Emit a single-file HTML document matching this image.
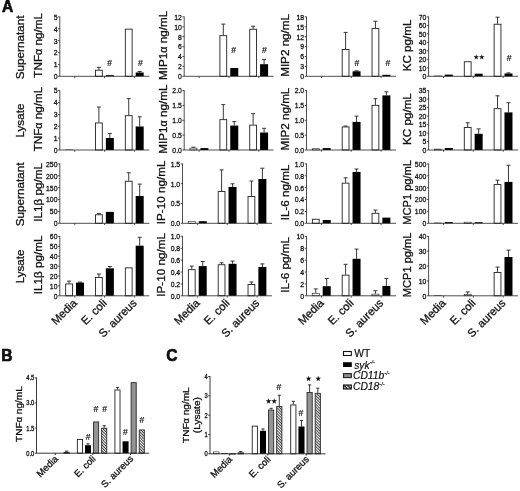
<!DOCTYPE html>
<html><head><meta charset="utf-8"><title>Figure</title>
<style>
html,body{margin:0;padding:0;background:#fff;}
body{width:520px;height:491px;overflow:hidden;}
svg{display:block;will-change:transform;}
svg text{font-family:"Liberation Sans",sans-serif;fill:#111;}
</style></head>
<body>
<svg width="520" height="491" viewBox="0 0 520 491">
<defs>
<pattern id="hatch" width="2.0" height="2.0" patternUnits="userSpaceOnUse" patternTransform="rotate(45)">
<rect width="2.0" height="2.0" fill="#fff"/><rect width="2.0" height="0.85" fill="#222"/>
</pattern>
<pattern id="hatch2" width="2.6" height="2.6" patternUnits="userSpaceOnUse" patternTransform="rotate(45)">
<rect width="2.6" height="2.6" fill="#fff"/><rect width="2.6" height="1.4" fill="#111"/>
</pattern>
</defs>
<rect width="520" height="491" fill="#fff"/>
<path d="M98.9 69.8V67.3M96.9 67.3h4" fill="none" stroke="#222" stroke-width="0.9"/>
<rect x="95.5" y="70.25" width="6.8" height="6.05" fill="#fff" stroke="#222" stroke-width="0.9"/>
<rect x="105.85" y="75.2" width="8" height="1.1" fill="#000"/>
<rect x="125.33" y="29.15" width="6.8" height="47.15" fill="#fff" stroke="#222" stroke-width="0.9"/>
<path d="M139.68 72.5V71.5M137.68 71.5h4" fill="none" stroke="#222" stroke-width="0.9"/>
<rect x="135.68" y="72.5" width="8" height="3.8" fill="#000"/>
<path d="M59.8 16.5V76.3H149.3" fill="none" stroke="#222" stroke-width="0.8"/>
<text transform="translate(57.5 79.18) scale(0.86 1)" font-size="8.0" text-anchor="end" stroke="#111" stroke-width="0.3">0</text>
<text transform="translate(57.5 67.3) scale(0.86 1)" font-size="8.0" text-anchor="end" stroke="#111" stroke-width="0.3">1</text>
<text transform="translate(57.5 55.42) scale(0.86 1)" font-size="8.0" text-anchor="end" stroke="#111" stroke-width="0.3">2</text>
<text transform="translate(57.5 43.54) scale(0.86 1)" font-size="8.0" text-anchor="end" stroke="#111" stroke-width="0.3">3</text>
<text transform="translate(57.5 31.66) scale(0.86 1)" font-size="8.0" text-anchor="end" stroke="#111" stroke-width="0.3">4</text>
<text transform="translate(57.5 19.78) scale(0.86 1)" font-size="8.0" text-anchor="end" stroke="#111" stroke-width="0.3">5</text>
<path d="M58 76.3H59.8M58 64.42H59.8M58 52.54H59.8M58 40.66H59.8M58 28.78H59.8M58 16.9H59.8M74.72 76.3v1.8M104.55 76.3v1.8M134.38 76.3v1.8" fill="none" stroke="#222" stroke-width="0.8"/>
<text transform="translate(42.2 45.4) rotate(-90) scale(1.015 1)" font-size="11.5" text-anchor="middle" stroke="#111" stroke-width="0.3">TNF<tspan font-size="92%">&#945;</tspan> ng/mL</text>
<text x="109.6" y="66.3" font-size="8.6" text-anchor="middle" fill="#111" stroke="#111" stroke-width="0.2">#</text>
<text x="140.4" y="66.3" font-size="8.6" text-anchor="middle" fill="#111" stroke="#111" stroke-width="0.2">#</text>
<path d="M223.3 35.2V24.1M221.3 24.1h4" fill="none" stroke="#222" stroke-width="0.9"/>
<rect x="219.9" y="35.65" width="6.8" height="40.65" fill="#fff" stroke="#222" stroke-width="0.9"/>
<rect x="230.25" y="68" width="8" height="8.3" fill="#000"/>
<path d="M253.13 28.8V26.2M251.13 26.2h4" fill="none" stroke="#222" stroke-width="0.9"/>
<rect x="249.73" y="29.25" width="6.8" height="47.05" fill="#fff" stroke="#222" stroke-width="0.9"/>
<path d="M264.08 64.2V59.4M262.08 59.4h4" fill="none" stroke="#222" stroke-width="0.9"/>
<rect x="260.08" y="64.2" width="8" height="12.1" fill="#000"/>
<path d="M184.2 16.5V76.3H273.7" fill="none" stroke="#222" stroke-width="0.8"/>
<text transform="translate(181.9 79.18) scale(0.86 1)" font-size="8.0" text-anchor="end" stroke="#111" stroke-width="0.3">0</text>
<text transform="translate(181.9 69.28) scale(0.86 1)" font-size="8.0" text-anchor="end" stroke="#111" stroke-width="0.3">2</text>
<text transform="translate(181.9 59.38) scale(0.86 1)" font-size="8.0" text-anchor="end" stroke="#111" stroke-width="0.3">4</text>
<text transform="translate(181.9 49.48) scale(0.86 1)" font-size="8.0" text-anchor="end" stroke="#111" stroke-width="0.3">6</text>
<text transform="translate(181.9 39.58) scale(0.86 1)" font-size="8.0" text-anchor="end" stroke="#111" stroke-width="0.3">8</text>
<text transform="translate(181.9 29.68) scale(0.86 1)" font-size="8.0" text-anchor="end" stroke="#111" stroke-width="0.3">10</text>
<text transform="translate(181.9 19.78) scale(0.86 1)" font-size="8.0" text-anchor="end" stroke="#111" stroke-width="0.3">12</text>
<path d="M182.4 76.3H184.2M182.4 66.4H184.2M182.4 56.5H184.2M182.4 46.6H184.2M182.4 36.7H184.2M182.4 26.8H184.2M182.4 16.9H184.2M199.12 76.3v1.8M228.95 76.3v1.8M258.78 76.3v1.8" fill="none" stroke="#222" stroke-width="0.8"/>
<text transform="translate(166.6 45.4) rotate(-90) scale(1.015 1)" font-size="11.5" text-anchor="middle" stroke="#111" stroke-width="0.3">MIP1<tspan font-size="92%">&#945;</tspan> ng/mL</text>
<text x="233.6" y="53.3" font-size="8.6" text-anchor="middle" fill="#111" stroke="#111" stroke-width="0.2">#</text>
<text x="264.5" y="53.3" font-size="8.6" text-anchor="middle" fill="#111" stroke="#111" stroke-width="0.2">#</text>
<path d="M345.6 49V32.4M343.6 32.4h4" fill="none" stroke="#222" stroke-width="0.9"/>
<rect x="342.2" y="49.45" width="6.8" height="26.85" fill="#fff" stroke="#222" stroke-width="0.9"/>
<path d="M356.55 71.3V70.8M354.55 70.8h4" fill="none" stroke="#222" stroke-width="0.9"/>
<rect x="352.55" y="71.3" width="8" height="5" fill="#000"/>
<path d="M375.43 28.1V21.2M373.43 21.2h4" fill="none" stroke="#222" stroke-width="0.9"/>
<rect x="372.03" y="28.55" width="6.8" height="47.75" fill="#fff" stroke="#222" stroke-width="0.9"/>
<rect x="382.38" y="74.8" width="8" height="1.5" fill="#000"/>
<path d="M306.5 16.5V76.3H396" fill="none" stroke="#222" stroke-width="0.8"/>
<text transform="translate(304.2 79.18) scale(0.86 1)" font-size="8.0" text-anchor="end" stroke="#111" stroke-width="0.3">0</text>
<text transform="translate(304.2 69.28) scale(0.86 1)" font-size="8.0" text-anchor="end" stroke="#111" stroke-width="0.3">3</text>
<text transform="translate(304.2 59.38) scale(0.86 1)" font-size="8.0" text-anchor="end" stroke="#111" stroke-width="0.3">6</text>
<text transform="translate(304.2 49.48) scale(0.86 1)" font-size="8.0" text-anchor="end" stroke="#111" stroke-width="0.3">9</text>
<text transform="translate(304.2 39.58) scale(0.86 1)" font-size="8.0" text-anchor="end" stroke="#111" stroke-width="0.3">12</text>
<text transform="translate(304.2 29.68) scale(0.86 1)" font-size="8.0" text-anchor="end" stroke="#111" stroke-width="0.3">15</text>
<text transform="translate(304.2 19.78) scale(0.86 1)" font-size="8.0" text-anchor="end" stroke="#111" stroke-width="0.3">18</text>
<path d="M304.7 76.3H306.5M304.7 66.4H306.5M304.7 56.5H306.5M304.7 46.6H306.5M304.7 36.7H306.5M304.7 26.8H306.5M304.7 16.9H306.5M321.42 76.3v1.8M351.25 76.3v1.8M381.08 76.3v1.8" fill="none" stroke="#222" stroke-width="0.8"/>
<text transform="translate(288.9 45.4) rotate(-90) scale(1.015 1)" font-size="11.5" text-anchor="middle" stroke="#111" stroke-width="0.3">MIP2 ng/mL</text>
<text x="357" y="65.8" font-size="8.6" text-anchor="middle" fill="#111" stroke="#111" stroke-width="0.2">#</text>
<text x="387.9" y="65.8" font-size="8.6" text-anchor="middle" fill="#111" stroke="#111" stroke-width="0.2">#</text>
<rect x="434.02" y="75.6" width="7.7" height="0.7" fill="#444"/>
<rect x="444.82" y="74.6" width="8" height="1.7" fill="#000"/>
<rect x="464.3" y="61.75" width="6.8" height="14.55" fill="#fff" stroke="#222" stroke-width="0.9"/>
<rect x="474.65" y="73.7" width="8" height="2.6" fill="#000"/>
<path d="M497.53 23.8V17.2M495.53 17.2h4" fill="none" stroke="#222" stroke-width="0.9"/>
<rect x="494.13" y="24.25" width="6.8" height="52.05" fill="#fff" stroke="#222" stroke-width="0.9"/>
<path d="M508.48 73.5V72.9M506.48 72.9h4" fill="none" stroke="#222" stroke-width="0.9"/>
<rect x="504.48" y="73.5" width="8" height="2.8" fill="#000"/>
<path d="M428.6 16.5V76.3H518.1" fill="none" stroke="#222" stroke-width="0.8"/>
<text transform="translate(426.3 79.18) scale(0.86 1)" font-size="8.0" text-anchor="end" stroke="#111" stroke-width="0.3">0</text>
<text transform="translate(426.3 70.69) scale(0.86 1)" font-size="8.0" text-anchor="end" stroke="#111" stroke-width="0.3">10</text>
<text transform="translate(426.3 62.21) scale(0.86 1)" font-size="8.0" text-anchor="end" stroke="#111" stroke-width="0.3">20</text>
<text transform="translate(426.3 53.72) scale(0.86 1)" font-size="8.0" text-anchor="end" stroke="#111" stroke-width="0.3">30</text>
<text transform="translate(426.3 45.24) scale(0.86 1)" font-size="8.0" text-anchor="end" stroke="#111" stroke-width="0.3">40</text>
<text transform="translate(426.3 36.75) scale(0.86 1)" font-size="8.0" text-anchor="end" stroke="#111" stroke-width="0.3">50</text>
<text transform="translate(426.3 28.27) scale(0.86 1)" font-size="8.0" text-anchor="end" stroke="#111" stroke-width="0.3">60</text>
<text transform="translate(426.3 19.78) scale(0.86 1)" font-size="8.0" text-anchor="end" stroke="#111" stroke-width="0.3">70</text>
<path d="M426.8 76.3H428.6M426.8 67.81H428.6M426.8 59.33H428.6M426.8 50.84H428.6M426.8 42.36H428.6M426.8 33.87H428.6M426.8 25.39H428.6M426.8 16.9H428.6M443.52 76.3v1.8M473.35 76.3v1.8M503.18 76.3v1.8" fill="none" stroke="#222" stroke-width="0.8"/>
<text transform="translate(411 45.4) rotate(-90) scale(1.015 1)" font-size="11.5" text-anchor="middle" stroke="#111" stroke-width="0.3">KC pg/mL</text>
<polygon points="476.2,54.3 476.88,56.26 478.96,56.3 477.3,57.56 477.9,59.55 476.2,58.36 474.5,59.55 475.1,57.56 473.44,56.3 475.52,56.26" fill="#111"/>
<polygon points="481.8,54.3 482.48,56.26 484.56,56.3 482.9,57.56 483.5,59.55 481.8,58.36 480.1,59.55 480.7,57.56 479.04,56.3 481.12,56.26" fill="#111"/>
<text x="509.2" y="61.2" font-size="8.6" text-anchor="middle" fill="#111" stroke="#111" stroke-width="0.2">#</text>
<rect x="65.22" y="149.5" width="7.7" height="0.5" fill="#444"/>
<path d="M98.9 122.5V107M96.9 107h4" fill="none" stroke="#222" stroke-width="0.9"/>
<rect x="95.5" y="122.95" width="6.8" height="27.05" fill="#fff" stroke="#222" stroke-width="0.9"/>
<path d="M109.85 138V133.4M107.85 133.4h4" fill="none" stroke="#222" stroke-width="0.9"/>
<rect x="105.85" y="138" width="8" height="12" fill="#000"/>
<path d="M128.73 115.2V98.6M126.73 98.6h4" fill="none" stroke="#222" stroke-width="0.9"/>
<rect x="125.33" y="115.65" width="6.8" height="34.35" fill="#fff" stroke="#222" stroke-width="0.9"/>
<path d="M139.68 126.5V116.8M137.68 116.8h4" fill="none" stroke="#222" stroke-width="0.9"/>
<rect x="135.68" y="126.5" width="8" height="23.5" fill="#000"/>
<path d="M59.8 90.2V150H149.3" fill="none" stroke="#222" stroke-width="0.8"/>
<text transform="translate(57.5 152.88) scale(0.86 1)" font-size="8.0" text-anchor="end" stroke="#111" stroke-width="0.3">0</text>
<text transform="translate(57.5 141) scale(0.86 1)" font-size="8.0" text-anchor="end" stroke="#111" stroke-width="0.3">1</text>
<text transform="translate(57.5 129.12) scale(0.86 1)" font-size="8.0" text-anchor="end" stroke="#111" stroke-width="0.3">2</text>
<text transform="translate(57.5 117.24) scale(0.86 1)" font-size="8.0" text-anchor="end" stroke="#111" stroke-width="0.3">3</text>
<text transform="translate(57.5 105.36) scale(0.86 1)" font-size="8.0" text-anchor="end" stroke="#111" stroke-width="0.3">4</text>
<text transform="translate(57.5 93.48) scale(0.86 1)" font-size="8.0" text-anchor="end" stroke="#111" stroke-width="0.3">5</text>
<path d="M58 150H59.8M58 138.12H59.8M58 126.24H59.8M58 114.36H59.8M58 102.48H59.8M58 90.6H59.8M74.72 150v1.8M104.55 150v1.8M134.38 150v1.8" fill="none" stroke="#222" stroke-width="0.8"/>
<text transform="translate(42.2 119.1) rotate(-90) scale(1.015 1)" font-size="11.5" text-anchor="middle" stroke="#111" stroke-width="0.3">TNF<tspan font-size="92%">&#945;</tspan> ng/mL</text>
<path d="M193.47 147.8V147.2M191.47 147.2h4" fill="none" stroke="#222" stroke-width="0.9"/>
<rect x="189.92" y="148.1" width="7.1" height="1.9" fill="#fff" stroke="#222" stroke-width="0.6"/>
<rect x="200.42" y="148.1" width="8" height="1.9" fill="#000"/>
<path d="M223.3 119.2V104.6M221.3 104.6h4" fill="none" stroke="#222" stroke-width="0.9"/>
<rect x="219.9" y="119.65" width="6.8" height="30.35" fill="#fff" stroke="#222" stroke-width="0.9"/>
<path d="M234.25 125.6V121.6M232.25 121.6h4" fill="none" stroke="#222" stroke-width="0.9"/>
<rect x="230.25" y="125.6" width="8" height="24.4" fill="#000"/>
<path d="M253.13 124.7V113.7M251.13 113.7h4" fill="none" stroke="#222" stroke-width="0.9"/>
<rect x="249.73" y="125.15" width="6.8" height="24.85" fill="#fff" stroke="#222" stroke-width="0.9"/>
<path d="M264.08 132.5V128.3M262.08 128.3h4" fill="none" stroke="#222" stroke-width="0.9"/>
<rect x="260.08" y="132.5" width="8" height="17.5" fill="#000"/>
<path d="M184.2 90.2V150H273.7" fill="none" stroke="#222" stroke-width="0.8"/>
<text transform="translate(181.9 152.88) scale(0.86 1)" font-size="8.0" text-anchor="end" stroke="#111" stroke-width="0.3">0.0</text>
<text transform="translate(181.9 138.03) scale(0.86 1)" font-size="8.0" text-anchor="end" stroke="#111" stroke-width="0.3">0.5</text>
<text transform="translate(181.9 123.18) scale(0.86 1)" font-size="8.0" text-anchor="end" stroke="#111" stroke-width="0.3">1.0</text>
<text transform="translate(181.9 108.33) scale(0.86 1)" font-size="8.0" text-anchor="end" stroke="#111" stroke-width="0.3">1.5</text>
<text transform="translate(181.9 93.48) scale(0.86 1)" font-size="8.0" text-anchor="end" stroke="#111" stroke-width="0.3">2.0</text>
<path d="M182.4 150H184.2M182.4 135.15H184.2M182.4 120.3H184.2M182.4 105.45H184.2M182.4 90.6H184.2M199.12 150v1.8M228.95 150v1.8M258.78 150v1.8" fill="none" stroke="#222" stroke-width="0.8"/>
<text transform="translate(166.6 119.1) rotate(-90) scale(1.015 1)" font-size="11.5" text-anchor="middle" stroke="#111" stroke-width="0.3">MIP1<tspan font-size="92%">&#945;</tspan> ng/mL</text>
<rect x="312.22" y="148.7" width="7.1" height="1.3" fill="#fff" stroke="#222" stroke-width="0.6"/>
<rect x="322.72" y="148.1" width="8" height="1.9" fill="#000"/>
<path d="M345.6 126.5V126M343.6 126h4" fill="none" stroke="#222" stroke-width="0.9"/>
<rect x="342.2" y="126.95" width="6.8" height="23.05" fill="#fff" stroke="#222" stroke-width="0.9"/>
<path d="M356.55 121.9V116.1M354.55 116.1h4" fill="none" stroke="#222" stroke-width="0.9"/>
<rect x="352.55" y="121.9" width="8" height="28.1" fill="#000"/>
<path d="M375.43 104.9V98.7M373.43 98.7h4" fill="none" stroke="#222" stroke-width="0.9"/>
<rect x="372.03" y="105.35" width="6.8" height="44.65" fill="#fff" stroke="#222" stroke-width="0.9"/>
<path d="M386.38 95.4V91.8M384.38 91.8h4" fill="none" stroke="#222" stroke-width="0.9"/>
<rect x="382.38" y="95.4" width="8" height="54.6" fill="#000"/>
<path d="M306.5 90.2V150H396" fill="none" stroke="#222" stroke-width="0.8"/>
<text transform="translate(304.2 152.88) scale(0.86 1)" font-size="8.0" text-anchor="end" stroke="#111" stroke-width="0.3">0.0</text>
<text transform="translate(304.2 138.03) scale(0.86 1)" font-size="8.0" text-anchor="end" stroke="#111" stroke-width="0.3">0.5</text>
<text transform="translate(304.2 123.18) scale(0.86 1)" font-size="8.0" text-anchor="end" stroke="#111" stroke-width="0.3">1.0</text>
<text transform="translate(304.2 108.33) scale(0.86 1)" font-size="8.0" text-anchor="end" stroke="#111" stroke-width="0.3">1.5</text>
<text transform="translate(304.2 93.48) scale(0.86 1)" font-size="8.0" text-anchor="end" stroke="#111" stroke-width="0.3">2.0</text>
<path d="M304.7 150H306.5M304.7 135.15H306.5M304.7 120.3H306.5M304.7 105.45H306.5M304.7 90.6H306.5M321.42 150v1.8M351.25 150v1.8M381.08 150v1.8" fill="none" stroke="#222" stroke-width="0.8"/>
<text transform="translate(288.9 119.1) rotate(-90) scale(1.015 1)" font-size="11.5" text-anchor="middle" stroke="#111" stroke-width="0.3">MIP2 ng/mL</text>
<rect x="434.32" y="149.1" width="7.1" height="0.9" fill="#fff" stroke="#222" stroke-width="0.6"/>
<rect x="444.82" y="148" width="8" height="2" fill="#000"/>
<path d="M467.7 127V122.8M465.7 122.8h4" fill="none" stroke="#222" stroke-width="0.9"/>
<rect x="464.3" y="127.45" width="6.8" height="22.55" fill="#fff" stroke="#222" stroke-width="0.9"/>
<path d="M478.65 133.8V128.9M476.65 128.9h4" fill="none" stroke="#222" stroke-width="0.9"/>
<rect x="474.65" y="133.8" width="8" height="16.2" fill="#000"/>
<path d="M497.53 108.2V95.8M495.53 95.8h4" fill="none" stroke="#222" stroke-width="0.9"/>
<rect x="494.13" y="108.65" width="6.8" height="41.35" fill="#fff" stroke="#222" stroke-width="0.9"/>
<path d="M508.48 112.4V102.7M506.48 102.7h4" fill="none" stroke="#222" stroke-width="0.9"/>
<rect x="504.48" y="112.4" width="8" height="37.6" fill="#000"/>
<path d="M428.6 90.2V150H518.1" fill="none" stroke="#222" stroke-width="0.8"/>
<text transform="translate(426.3 152.88) scale(0.86 1)" font-size="8.0" text-anchor="end" stroke="#111" stroke-width="0.3">0</text>
<text transform="translate(426.3 144.39) scale(0.86 1)" font-size="8.0" text-anchor="end" stroke="#111" stroke-width="0.3">5</text>
<text transform="translate(426.3 135.91) scale(0.86 1)" font-size="8.0" text-anchor="end" stroke="#111" stroke-width="0.3">10</text>
<text transform="translate(426.3 127.42) scale(0.86 1)" font-size="8.0" text-anchor="end" stroke="#111" stroke-width="0.3">15</text>
<text transform="translate(426.3 118.94) scale(0.86 1)" font-size="8.0" text-anchor="end" stroke="#111" stroke-width="0.3">20</text>
<text transform="translate(426.3 110.45) scale(0.86 1)" font-size="8.0" text-anchor="end" stroke="#111" stroke-width="0.3">25</text>
<text transform="translate(426.3 101.97) scale(0.86 1)" font-size="8.0" text-anchor="end" stroke="#111" stroke-width="0.3">30</text>
<text transform="translate(426.3 93.48) scale(0.86 1)" font-size="8.0" text-anchor="end" stroke="#111" stroke-width="0.3">35</text>
<path d="M426.8 150H428.6M426.8 141.51H428.6M426.8 133.03H428.6M426.8 124.54H428.6M426.8 116.06H428.6M426.8 107.57H428.6M426.8 99.09H428.6M426.8 90.6H428.6M443.52 150v1.8M473.35 150v1.8M503.18 150v1.8" fill="none" stroke="#222" stroke-width="0.8"/>
<text transform="translate(411 119.1) rotate(-90) scale(1.015 1)" font-size="11.5" text-anchor="middle" stroke="#111" stroke-width="0.3">KC pg/mL</text>
<path d="M98.9 214.3V213.6M96.9 213.6h4" fill="none" stroke="#222" stroke-width="0.9"/>
<rect x="95.5" y="214.75" width="6.8" height="8.55" fill="#fff" stroke="#222" stroke-width="0.9"/>
<rect x="105.85" y="211.9" width="8" height="11.4" fill="#000"/>
<path d="M128.73 180.8V172.8M126.73 172.8h4" fill="none" stroke="#222" stroke-width="0.9"/>
<rect x="125.33" y="181.25" width="6.8" height="42.05" fill="#fff" stroke="#222" stroke-width="0.9"/>
<path d="M139.68 196V184.1M137.68 184.1h4" fill="none" stroke="#222" stroke-width="0.9"/>
<rect x="135.68" y="196" width="8" height="27.3" fill="#000"/>
<path d="M59.8 163.5V223.3H149.3" fill="none" stroke="#222" stroke-width="0.8"/>
<text transform="translate(57.5 226.18) scale(0.86 1)" font-size="8.0" text-anchor="end" stroke="#111" stroke-width="0.3">0</text>
<text transform="translate(57.5 214.3) scale(0.86 1)" font-size="8.0" text-anchor="end" stroke="#111" stroke-width="0.3">50</text>
<text transform="translate(57.5 202.42) scale(0.86 1)" font-size="8.0" text-anchor="end" stroke="#111" stroke-width="0.3">100</text>
<text transform="translate(57.5 190.54) scale(0.86 1)" font-size="8.0" text-anchor="end" stroke="#111" stroke-width="0.3">150</text>
<text transform="translate(57.5 178.66) scale(0.86 1)" font-size="8.0" text-anchor="end" stroke="#111" stroke-width="0.3">200</text>
<text transform="translate(57.5 166.78) scale(0.86 1)" font-size="8.0" text-anchor="end" stroke="#111" stroke-width="0.3">250</text>
<path d="M58 223.3H59.8M58 211.42H59.8M58 199.54H59.8M58 187.66H59.8M58 175.78H59.8M58 163.9H59.8M74.72 223.3v1.8M104.55 223.3v1.8M134.38 223.3v1.8" fill="none" stroke="#222" stroke-width="0.8"/>
<text transform="translate(42.2 192.4) rotate(-90) scale(1.015 1)" font-size="11.5" text-anchor="middle" stroke="#111" stroke-width="0.3">IL1&#946; pg/mL</text>
<rect x="188.22" y="221.6" width="7.1" height="1.7" fill="#fff" stroke="#222" stroke-width="0.6"/>
<rect x="198.72" y="221.2" width="8" height="2.1" fill="#000"/>
<path d="M221.6 191.1V169.9M219.6 169.9h4" fill="none" stroke="#222" stroke-width="0.9"/>
<rect x="218.2" y="191.55" width="6.8" height="31.75" fill="#fff" stroke="#222" stroke-width="0.9"/>
<path d="M232.55 186.9V183.8M230.55 183.8h4" fill="none" stroke="#222" stroke-width="0.9"/>
<rect x="228.55" y="186.9" width="8" height="36.4" fill="#000"/>
<path d="M251.43 196V181M249.43 181h4" fill="none" stroke="#222" stroke-width="0.9"/>
<rect x="248.03" y="196.45" width="6.8" height="26.85" fill="#fff" stroke="#222" stroke-width="0.9"/>
<path d="M262.38 179V168.2M260.38 168.2h4" fill="none" stroke="#222" stroke-width="0.9"/>
<rect x="258.38" y="179" width="8" height="44.3" fill="#000"/>
<path d="M182.5 163.5V223.3H272" fill="none" stroke="#222" stroke-width="0.8"/>
<text transform="translate(180.2 226.18) scale(0.86 1)" font-size="8.0" text-anchor="end" stroke="#111" stroke-width="0.3">0.0</text>
<text transform="translate(180.2 206.38) scale(0.86 1)" font-size="8.0" text-anchor="end" stroke="#111" stroke-width="0.3">0.5</text>
<text transform="translate(180.2 186.58) scale(0.86 1)" font-size="8.0" text-anchor="end" stroke="#111" stroke-width="0.3">1.0</text>
<text transform="translate(180.2 166.78) scale(0.86 1)" font-size="8.0" text-anchor="end" stroke="#111" stroke-width="0.3">1.5</text>
<path d="M180.7 223.3H182.5M180.7 203.5H182.5M180.7 183.7H182.5M180.7 163.9H182.5M197.42 223.3v1.8M227.25 223.3v1.8M257.08 223.3v1.8" fill="none" stroke="#222" stroke-width="0.8"/>
<text transform="translate(164.9 192.4) rotate(-90) scale(1.015 1)" font-size="11.5" text-anchor="middle" stroke="#111" stroke-width="0.3">IP-10 ng/mL</text>
<rect x="312.37" y="219.25" width="6.8" height="4.05" fill="#fff" stroke="#222" stroke-width="0.9"/>
<rect x="322.72" y="220" width="8" height="3.3" fill="#000"/>
<path d="M345.6 182.7V177.8M343.6 177.8h4" fill="none" stroke="#222" stroke-width="0.9"/>
<rect x="342.2" y="183.15" width="6.8" height="40.15" fill="#fff" stroke="#222" stroke-width="0.9"/>
<path d="M356.55 171.9V169M354.55 169h4" fill="none" stroke="#222" stroke-width="0.9"/>
<rect x="352.55" y="171.9" width="8" height="51.4" fill="#000"/>
<path d="M375.43 212.8V210.1M373.43 210.1h4" fill="none" stroke="#222" stroke-width="0.9"/>
<rect x="372.03" y="213.25" width="6.8" height="10.05" fill="#fff" stroke="#222" stroke-width="0.9"/>
<rect x="382.38" y="217.6" width="8" height="5.7" fill="#000"/>
<path d="M306.5 163.5V223.3H396" fill="none" stroke="#222" stroke-width="0.8"/>
<text transform="translate(304.2 226.18) scale(0.86 1)" font-size="8.0" text-anchor="end" stroke="#111" stroke-width="0.3">0.0</text>
<text transform="translate(304.2 214.3) scale(0.86 1)" font-size="8.0" text-anchor="end" stroke="#111" stroke-width="0.3">0.2</text>
<text transform="translate(304.2 202.42) scale(0.86 1)" font-size="8.0" text-anchor="end" stroke="#111" stroke-width="0.3">0.4</text>
<text transform="translate(304.2 190.54) scale(0.86 1)" font-size="8.0" text-anchor="end" stroke="#111" stroke-width="0.3">0.6</text>
<text transform="translate(304.2 178.66) scale(0.86 1)" font-size="8.0" text-anchor="end" stroke="#111" stroke-width="0.3">0.8</text>
<text transform="translate(304.2 166.78) scale(0.86 1)" font-size="8.0" text-anchor="end" stroke="#111" stroke-width="0.3">1.0</text>
<path d="M304.7 223.3H306.5M304.7 211.42H306.5M304.7 199.54H306.5M304.7 187.66H306.5M304.7 175.78H306.5M304.7 163.9H306.5M321.42 223.3v1.8M351.25 223.3v1.8M381.08 223.3v1.8" fill="none" stroke="#222" stroke-width="0.8"/>
<text transform="translate(288.9 192.4) rotate(-90) scale(1.015 1)" font-size="11.5" text-anchor="middle" stroke="#111" stroke-width="0.3">IL-6 ng/mL</text>
<rect x="434.02" y="222.6" width="7.7" height="0.7" fill="#444"/>
<rect x="444.82" y="222.1" width="8" height="1.2" fill="#000"/>
<rect x="464.15" y="222.2" width="7.1" height="1.1" fill="#fff" stroke="#222" stroke-width="0.6"/>
<rect x="474.65" y="222.2" width="8" height="1.1" fill="#000"/>
<path d="M497.53 184.1V180.2M495.53 180.2h4" fill="none" stroke="#222" stroke-width="0.9"/>
<rect x="494.13" y="184.55" width="6.8" height="38.75" fill="#fff" stroke="#222" stroke-width="0.9"/>
<path d="M508.48 181.9V165.3M506.48 165.3h4" fill="none" stroke="#222" stroke-width="0.9"/>
<rect x="504.48" y="181.9" width="8" height="41.4" fill="#000"/>
<path d="M428.6 163.5V223.3H518.1" fill="none" stroke="#222" stroke-width="0.8"/>
<text transform="translate(426.3 226.18) scale(0.86 1)" font-size="8.0" text-anchor="end" stroke="#111" stroke-width="0.3">0</text>
<text transform="translate(426.3 214.3) scale(0.86 1)" font-size="8.0" text-anchor="end" stroke="#111" stroke-width="0.3">100</text>
<text transform="translate(426.3 202.42) scale(0.86 1)" font-size="8.0" text-anchor="end" stroke="#111" stroke-width="0.3">200</text>
<text transform="translate(426.3 190.54) scale(0.86 1)" font-size="8.0" text-anchor="end" stroke="#111" stroke-width="0.3">300</text>
<text transform="translate(426.3 178.66) scale(0.86 1)" font-size="8.0" text-anchor="end" stroke="#111" stroke-width="0.3">400</text>
<text transform="translate(426.3 166.78) scale(0.86 1)" font-size="8.0" text-anchor="end" stroke="#111" stroke-width="0.3">500</text>
<path d="M426.8 223.3H428.6M426.8 211.42H428.6M426.8 199.54H428.6M426.8 187.66H428.6M426.8 175.78H428.6M426.8 163.9H428.6M443.52 223.3v1.8M473.35 223.3v1.8M503.18 223.3v1.8" fill="none" stroke="#222" stroke-width="0.8"/>
<text transform="translate(411 192.4) rotate(-90) scale(0.965 1)" font-size="11.5" text-anchor="middle" stroke="#111" stroke-width="0.3">MCP1 pg/mL</text>
<path d="M69.07 283.5V281.1M67.07 281.1h4" fill="none" stroke="#222" stroke-width="0.9"/>
<rect x="65.67" y="283.95" width="6.8" height="11.85" fill="#fff" stroke="#222" stroke-width="0.9"/>
<path d="M80.02 282.6V282.1M78.02 282.1h4" fill="none" stroke="#222" stroke-width="0.9"/>
<rect x="76.02" y="282.6" width="8" height="13.2" fill="#000"/>
<path d="M98.9 277.1V274M96.9 274h4" fill="none" stroke="#222" stroke-width="0.9"/>
<rect x="95.5" y="277.55" width="6.8" height="18.25" fill="#fff" stroke="#222" stroke-width="0.9"/>
<path d="M109.85 268.3V266.5M107.85 266.5h4" fill="none" stroke="#222" stroke-width="0.9"/>
<rect x="105.85" y="268.3" width="8" height="27.5" fill="#000"/>
<rect x="125.33" y="267.85" width="6.8" height="27.95" fill="#fff" stroke="#222" stroke-width="0.9"/>
<path d="M139.68 245.7V237.3M137.68 237.3h4" fill="none" stroke="#222" stroke-width="0.9"/>
<rect x="135.68" y="245.7" width="8" height="50.1" fill="#000"/>
<path d="M59.8 236V295.8H149.3" fill="none" stroke="#222" stroke-width="0.8"/>
<text transform="translate(57.5 298.68) scale(0.86 1)" font-size="8.0" text-anchor="end" stroke="#111" stroke-width="0.3">0</text>
<text transform="translate(57.5 288.78) scale(0.86 1)" font-size="8.0" text-anchor="end" stroke="#111" stroke-width="0.3">10</text>
<text transform="translate(57.5 278.88) scale(0.86 1)" font-size="8.0" text-anchor="end" stroke="#111" stroke-width="0.3">20</text>
<text transform="translate(57.5 268.98) scale(0.86 1)" font-size="8.0" text-anchor="end" stroke="#111" stroke-width="0.3">30</text>
<text transform="translate(57.5 259.08) scale(0.86 1)" font-size="8.0" text-anchor="end" stroke="#111" stroke-width="0.3">40</text>
<text transform="translate(57.5 249.18) scale(0.86 1)" font-size="8.0" text-anchor="end" stroke="#111" stroke-width="0.3">50</text>
<text transform="translate(57.5 239.28) scale(0.86 1)" font-size="8.0" text-anchor="end" stroke="#111" stroke-width="0.3">60</text>
<path d="M58 295.8H59.8M58 285.9H59.8M58 276H59.8M58 266.1H59.8M58 256.2H59.8M58 246.3H59.8M58 236.4H59.8M74.72 295.8v1.8M104.55 295.8v1.8M134.38 295.8v1.8" fill="none" stroke="#222" stroke-width="0.8"/>
<text transform="translate(42.2 264.9) rotate(-90) scale(1.015 1)" font-size="11.5" text-anchor="middle" stroke="#111" stroke-width="0.3">IL1&#946; pg/mL</text>
<text transform="translate(77.72 303.7) rotate(-45)" font-size="11.3" text-anchor="end" stroke="#111" stroke-width="0.3">Media</text>
<text transform="translate(107.55 303.7) rotate(-45)" font-size="11.3" text-anchor="end" stroke="#111" stroke-width="0.3">E. coli</text>
<text transform="translate(137.38 303.7) rotate(-45)" font-size="11.3" text-anchor="end" stroke="#111" stroke-width="0.3">S. aureus</text>
<path d="M191.77 269.2V266.1M189.77 266.1h4" fill="none" stroke="#222" stroke-width="0.9"/>
<rect x="188.37" y="269.65" width="6.8" height="26.15" fill="#fff" stroke="#222" stroke-width="0.9"/>
<path d="M202.72 266.1V261.5M200.72 261.5h4" fill="none" stroke="#222" stroke-width="0.9"/>
<rect x="198.72" y="266.1" width="8" height="29.7" fill="#000"/>
<path d="M221.6 264.3V262.8M219.6 262.8h4" fill="none" stroke="#222" stroke-width="0.9"/>
<rect x="218.2" y="264.75" width="6.8" height="31.05" fill="#fff" stroke="#222" stroke-width="0.9"/>
<path d="M232.55 263.8V261.1M230.55 261.1h4" fill="none" stroke="#222" stroke-width="0.9"/>
<rect x="228.55" y="263.8" width="8" height="32" fill="#000"/>
<path d="M251.43 284V282M249.43 282h4" fill="none" stroke="#222" stroke-width="0.9"/>
<rect x="248.03" y="284.45" width="6.8" height="11.35" fill="#fff" stroke="#222" stroke-width="0.9"/>
<path d="M262.38 267V263.9M260.38 263.9h4" fill="none" stroke="#222" stroke-width="0.9"/>
<rect x="258.38" y="267" width="8" height="28.8" fill="#000"/>
<path d="M182.5 236V295.8H272" fill="none" stroke="#222" stroke-width="0.8"/>
<text transform="translate(180.2 298.68) scale(0.86 1)" font-size="8.0" text-anchor="end" stroke="#111" stroke-width="0.3">0.0</text>
<text transform="translate(180.2 286.8) scale(0.86 1)" font-size="8.0" text-anchor="end" stroke="#111" stroke-width="0.3">0.2</text>
<text transform="translate(180.2 274.92) scale(0.86 1)" font-size="8.0" text-anchor="end" stroke="#111" stroke-width="0.3">0.4</text>
<text transform="translate(180.2 263.04) scale(0.86 1)" font-size="8.0" text-anchor="end" stroke="#111" stroke-width="0.3">0.6</text>
<text transform="translate(180.2 251.16) scale(0.86 1)" font-size="8.0" text-anchor="end" stroke="#111" stroke-width="0.3">0.8</text>
<text transform="translate(180.2 239.28) scale(0.86 1)" font-size="8.0" text-anchor="end" stroke="#111" stroke-width="0.3">1.0</text>
<path d="M180.7 295.8H182.5M180.7 283.92H182.5M180.7 272.04H182.5M180.7 260.16H182.5M180.7 248.28H182.5M180.7 236.4H182.5M197.42 295.8v1.8M227.25 295.8v1.8M257.08 295.8v1.8" fill="none" stroke="#222" stroke-width="0.8"/>
<text transform="translate(164.9 264.9) rotate(-90) scale(1.015 1)" font-size="11.5" text-anchor="middle" stroke="#111" stroke-width="0.3">IP-10 ng/mL</text>
<text transform="translate(200.42 303.7) rotate(-45)" font-size="11.3" text-anchor="end" stroke="#111" stroke-width="0.3">Media</text>
<text transform="translate(230.25 303.7) rotate(-45)" font-size="11.3" text-anchor="end" stroke="#111" stroke-width="0.3">E. coli</text>
<text transform="translate(260.08 303.7) rotate(-45)" font-size="11.3" text-anchor="end" stroke="#111" stroke-width="0.3">S. aureus</text>
<path d="M315.77 293.3V288.9M313.77 288.9h4" fill="none" stroke="#222" stroke-width="0.9"/>
<rect x="312.22" y="293.6" width="7.1" height="2.2" fill="#fff" stroke="#222" stroke-width="0.6"/>
<path d="M326.72 286.2V278.5M324.72 278.5h4" fill="none" stroke="#222" stroke-width="0.9"/>
<rect x="322.72" y="286.2" width="8" height="9.6" fill="#000"/>
<path d="M345.6 274.7V264.3M343.6 264.3h4" fill="none" stroke="#222" stroke-width="0.9"/>
<rect x="342.2" y="275.15" width="6.8" height="20.65" fill="#fff" stroke="#222" stroke-width="0.9"/>
<path d="M356.55 258.8V249.1M354.55 249.1h4" fill="none" stroke="#222" stroke-width="0.9"/>
<rect x="352.55" y="258.8" width="8" height="37" fill="#000"/>
<path d="M375.43 293.8V290.7M373.43 290.7h4" fill="none" stroke="#222" stroke-width="0.9"/>
<rect x="371.88" y="294.1" width="7.1" height="1.7" fill="#fff" stroke="#222" stroke-width="0.6"/>
<path d="M386.38 285.9V278.4M384.38 278.4h4" fill="none" stroke="#222" stroke-width="0.9"/>
<rect x="382.38" y="285.9" width="8" height="9.9" fill="#000"/>
<path d="M306.5 236V295.8H396" fill="none" stroke="#222" stroke-width="0.8"/>
<text transform="translate(304.2 298.68) scale(0.86 1)" font-size="8.0" text-anchor="end" stroke="#111" stroke-width="0.3">0</text>
<text transform="translate(304.2 286.8) scale(0.86 1)" font-size="8.0" text-anchor="end" stroke="#111" stroke-width="0.3">2</text>
<text transform="translate(304.2 274.92) scale(0.86 1)" font-size="8.0" text-anchor="end" stroke="#111" stroke-width="0.3">4</text>
<text transform="translate(304.2 263.04) scale(0.86 1)" font-size="8.0" text-anchor="end" stroke="#111" stroke-width="0.3">6</text>
<text transform="translate(304.2 251.16) scale(0.86 1)" font-size="8.0" text-anchor="end" stroke="#111" stroke-width="0.3">8</text>
<text transform="translate(304.2 239.28) scale(0.86 1)" font-size="8.0" text-anchor="end" stroke="#111" stroke-width="0.3">10</text>
<path d="M304.7 295.8H306.5M304.7 283.92H306.5M304.7 272.04H306.5M304.7 260.16H306.5M304.7 248.28H306.5M304.7 236.4H306.5M321.42 295.8v1.8M351.25 295.8v1.8M381.08 295.8v1.8" fill="none" stroke="#222" stroke-width="0.8"/>
<text transform="translate(288.9 264.9) rotate(-90) scale(1.015 1)" font-size="11.5" text-anchor="middle" stroke="#111" stroke-width="0.3">IL-6 pg/mL</text>
<text transform="translate(324.42 303.7) rotate(-45)" font-size="11.3" text-anchor="end" stroke="#111" stroke-width="0.3">Media</text>
<text transform="translate(354.25 303.7) rotate(-45)" font-size="11.3" text-anchor="end" stroke="#111" stroke-width="0.3">E. coli</text>
<text transform="translate(384.08 303.7) rotate(-45)" font-size="11.3" text-anchor="end" stroke="#111" stroke-width="0.3">S. aureus</text>
<rect x="434.02" y="295.2" width="7.7" height="0.6" fill="#444"/>
<path d="M467.7 294.3V291.9M465.7 291.9h4" fill="none" stroke="#222" stroke-width="0.9"/>
<rect x="464.15" y="294.6" width="7.1" height="1.2" fill="#fff" stroke="#222" stroke-width="0.6"/>
<path d="M497.53 272V267.1M495.53 267.1h4" fill="none" stroke="#222" stroke-width="0.9"/>
<rect x="494.13" y="272.45" width="6.8" height="23.35" fill="#fff" stroke="#222" stroke-width="0.9"/>
<path d="M508.48 257V250.1M506.48 250.1h4" fill="none" stroke="#222" stroke-width="0.9"/>
<rect x="504.48" y="257" width="8" height="38.8" fill="#000"/>
<path d="M428.6 236V295.8H518.1" fill="none" stroke="#222" stroke-width="0.8"/>
<text transform="translate(426.3 298.68) scale(0.86 1)" font-size="8.0" text-anchor="end" stroke="#111" stroke-width="0.3">0</text>
<text transform="translate(426.3 283.83) scale(0.86 1)" font-size="8.0" text-anchor="end" stroke="#111" stroke-width="0.3">10</text>
<text transform="translate(426.3 268.98) scale(0.86 1)" font-size="8.0" text-anchor="end" stroke="#111" stroke-width="0.3">20</text>
<text transform="translate(426.3 254.13) scale(0.86 1)" font-size="8.0" text-anchor="end" stroke="#111" stroke-width="0.3">30</text>
<text transform="translate(426.3 239.28) scale(0.86 1)" font-size="8.0" text-anchor="end" stroke="#111" stroke-width="0.3">40</text>
<path d="M426.8 295.8H428.6M426.8 280.95H428.6M426.8 266.1H428.6M426.8 251.25H428.6M426.8 236.4H428.6M443.52 295.8v1.8M473.35 295.8v1.8M503.18 295.8v1.8" fill="none" stroke="#222" stroke-width="0.8"/>
<text transform="translate(411 264.9) rotate(-90) scale(0.965 1)" font-size="11.5" text-anchor="middle" stroke="#111" stroke-width="0.3">MCP1 pg/mL</text>
<text transform="translate(446.52 303.7) rotate(-45)" font-size="11.3" text-anchor="end" stroke="#111" stroke-width="0.3">Media</text>
<text transform="translate(476.35 303.7) rotate(-45)" font-size="11.3" text-anchor="end" stroke="#111" stroke-width="0.3">E. coli</text>
<text transform="translate(506.18 303.7) rotate(-45)" font-size="11.3" text-anchor="end" stroke="#111" stroke-width="0.3">S. aureus</text>
<text transform="translate(24.3 47.4) rotate(-90) scale(1.015 1)" font-size="11.5" text-anchor="middle" stroke="#111" stroke-width="0.3">Supernatant</text>
<text transform="translate(24.3 120.6) rotate(-90) scale(1.015 1)" font-size="11.5" text-anchor="middle" stroke="#111" stroke-width="0.3">Lysate</text>
<text transform="translate(24.3 194.4) rotate(-90) scale(1.015 1)" font-size="11.5" text-anchor="middle" stroke="#111" stroke-width="0.3">Supernatant</text>
<text transform="translate(24.3 266.4) rotate(-90) scale(1.015 1)" font-size="11.5" text-anchor="middle" stroke="#111" stroke-width="0.3">Lysate</text>
<text x="1.9" y="12.1" font-size="15.6" font-weight="bold" stroke="#000" stroke-width="0.6" fill="#000">A</text>
<text x="1.3" y="360.6" font-size="15.6" font-weight="bold" stroke="#000" stroke-width="0.6" fill="#000">B</text>
<text x="166.3" y="361.4" font-size="15.6" font-weight="bold" stroke="#000" stroke-width="0.6" fill="#000">C</text>
<path d="M66.63 451.9V451.1M65.03 451.1h3.2" fill="none" stroke="#222" stroke-width="0.9"/>
<rect x="64.08" y="452.35" width="5.1" height="0.85" fill="url(#hatch)" stroke="#2a2a2a" stroke-width="0.9"/>
<rect x="77.35" y="439.55" width="5.1" height="13.65" fill="#fff" stroke="#222" stroke-width="0.9"/>
<path d="M88 445.2V443.8M86.4 443.8h3.2" fill="none" stroke="#222" stroke-width="0.9"/>
<rect x="85" y="445.2" width="6" height="8" fill="#000"/>
<rect x="93.55" y="421.95" width="5.1" height="31.25" fill="#939393" stroke="#2a2a2a" stroke-width="0.9"/>
<path d="M104.2 427.8V425.7M102.6 425.7h3.2" fill="none" stroke="#222" stroke-width="0.9"/>
<rect x="101.65" y="428.25" width="5.1" height="24.95" fill="url(#hatch)" stroke="#2a2a2a" stroke-width="0.9"/>
<path d="M117.47 389.5V387.4M115.87 387.4h3.2" fill="none" stroke="#222" stroke-width="0.9"/>
<rect x="114.92" y="389.95" width="5.1" height="63.25" fill="#fff" stroke="#222" stroke-width="0.9"/>
<rect x="122.57" y="441.3" width="6" height="11.9" fill="#000"/>
<rect x="131.12" y="382.65" width="5.1" height="70.55" fill="#939393" stroke="#2a2a2a" stroke-width="0.9"/>
<rect x="139.22" y="429.95" width="5.1" height="23.25" fill="url(#hatch)" stroke="#2a2a2a" stroke-width="0.9"/>
<path d="M36.5 377.5V453.2H149.2" fill="none" stroke="#222" stroke-width="0.9"/>
<text transform="translate(34.3 455.61) scale(0.86 1)" font-size="6.7" text-anchor="end" stroke="#111" stroke-width="0.3">0.0</text>
<text transform="translate(34.3 430.51) scale(0.86 1)" font-size="6.7" text-anchor="end" stroke="#111" stroke-width="0.3">1.5</text>
<text transform="translate(34.3 405.41) scale(0.86 1)" font-size="6.7" text-anchor="end" stroke="#111" stroke-width="0.3">3.0</text>
<text transform="translate(34.3 380.31) scale(0.86 1)" font-size="6.7" text-anchor="end" stroke="#111" stroke-width="0.3">4.5</text>
<path d="M34.7 453.2H36.5M34.7 428.1H36.5M34.7 403H36.5M34.7 377.9H36.5M55.28 453.2v1.8M92.85 453.2v1.8M130.42 453.2v1.8" fill="none" stroke="#222" stroke-width="0.9"/>
<text x="88.2" y="439.5" font-size="8.6" text-anchor="middle" fill="#111" stroke="#111" stroke-width="0.2">#</text>
<text x="96" y="411.9" font-size="8.6" text-anchor="middle" fill="#111" stroke="#111" stroke-width="0.2">#</text>
<text x="104.6" y="411.9" font-size="8.6" text-anchor="middle" fill="#111" stroke="#111" stroke-width="0.2">#</text>
<text x="125.4" y="434.7" font-size="8.6" text-anchor="middle" fill="#111" stroke="#111" stroke-width="0.2">#</text>
<text x="141.9" y="422.5" font-size="8.6" text-anchor="middle" fill="#111" stroke="#111" stroke-width="0.2">#</text>
<text transform="translate(58.68 459.4) rotate(-45)" font-size="9.5" text-anchor="end" stroke="#111" stroke-width="0.3">Media</text>
<text transform="translate(96.25 459.4) rotate(-45)" font-size="9.5" text-anchor="end" stroke="#111" stroke-width="0.3">E. coli</text>
<text transform="translate(133.82 459.4) rotate(-45)" font-size="9.5" text-anchor="end" stroke="#111" stroke-width="0.3">S. aureus</text>
<text transform="translate(21.8 414.05) rotate(-90) scale(1.05 1)" font-size="9.6" text-anchor="middle" stroke="#111" stroke-width="0.3">TNF<tspan font-size="92%">&#945;</tspan> ng/mL</text>
<rect x="213.58" y="451.9" width="5.5" height="1.9" fill="#fff" stroke="#222" stroke-width="0.6"/>
<rect x="221.43" y="453" width="6.1" height="0.8" fill="#000"/>
<rect x="230.02" y="453.75" width="5.2" height="0.3" fill="#939393" stroke="#2a2a2a" stroke-width="0.9"/>
<path d="M240.78 452.4V451.6M239.18 451.6h3.2" fill="none" stroke="#222" stroke-width="0.9"/>
<rect x="238.17" y="452.85" width="5.2" height="0.95" fill="url(#hatch)" stroke="#2a2a2a" stroke-width="0.9"/>
<rect x="252.22" y="426.15" width="5.2" height="27.65" fill="#fff" stroke="#222" stroke-width="0.9"/>
<path d="M262.98 430.8V428.9M261.38 428.9h3.2" fill="none" stroke="#222" stroke-width="0.9"/>
<rect x="259.93" y="430.8" width="6.1" height="23" fill="#000"/>
<path d="M271.12 409.6V408.3M269.52 408.3h3.2" fill="none" stroke="#222" stroke-width="0.9"/>
<rect x="268.52" y="410.05" width="5.2" height="43.75" fill="#939393" stroke="#2a2a2a" stroke-width="0.9"/>
<path d="M279.28 406V395.2M277.68 395.2h3.2" fill="none" stroke="#222" stroke-width="0.9"/>
<rect x="276.68" y="406.45" width="5.2" height="47.35" fill="url(#hatch)" stroke="#2a2a2a" stroke-width="0.9"/>
<path d="M293.32 404.5V401.3M291.72 401.3h3.2" fill="none" stroke="#222" stroke-width="0.9"/>
<rect x="290.72" y="404.95" width="5.2" height="48.85" fill="#fff" stroke="#222" stroke-width="0.9"/>
<path d="M301.48 426.5V420.5M299.88 420.5h3.2" fill="none" stroke="#222" stroke-width="0.9"/>
<rect x="298.43" y="426.5" width="6.1" height="27.3" fill="#000"/>
<path d="M309.62 392V384.9M308.02 384.9h3.2" fill="none" stroke="#222" stroke-width="0.9"/>
<rect x="307.02" y="392.45" width="5.2" height="61.35" fill="#939393" stroke="#2a2a2a" stroke-width="0.9"/>
<path d="M317.78 392.9V388.2M316.18 388.2h3.2" fill="none" stroke="#222" stroke-width="0.9"/>
<rect x="315.18" y="393.35" width="5.2" height="60.45" fill="url(#hatch)" stroke="#2a2a2a" stroke-width="0.9"/>
<path d="M210 376.1V453.8H325.5" fill="none" stroke="#222" stroke-width="0.9"/>
<text transform="translate(207.8 456.21) scale(0.86 1)" font-size="6.7" text-anchor="end" stroke="#111" stroke-width="0.3">0</text>
<text transform="translate(207.8 436.89) scale(0.86 1)" font-size="6.7" text-anchor="end" stroke="#111" stroke-width="0.3">1</text>
<text transform="translate(207.8 417.56) scale(0.86 1)" font-size="6.7" text-anchor="end" stroke="#111" stroke-width="0.3">2</text>
<text transform="translate(207.8 398.24) scale(0.86 1)" font-size="6.7" text-anchor="end" stroke="#111" stroke-width="0.3">3</text>
<text transform="translate(207.8 378.91) scale(0.86 1)" font-size="6.7" text-anchor="end" stroke="#111" stroke-width="0.3">4</text>
<path d="M208.2 453.8H210M208.2 434.48H210M208.2 415.15H210M208.2 395.83H210M208.2 376.5H210M229.25 453.8v1.8M267.75 453.8v1.8M306.25 453.8v1.8" fill="none" stroke="#222" stroke-width="0.9"/>
<polygon points="268.6,398.3 269.31,400.33 271.45,400.37 269.74,401.67 270.36,403.73 268.6,402.5 266.84,403.73 267.46,401.67 265.75,400.37 267.89,400.33" fill="#111"/>
<polygon points="274.2,398.3 274.91,400.33 277.05,400.37 275.34,401.67 275.96,403.73 274.2,402.5 272.44,403.73 273.06,401.67 271.35,400.37 273.49,400.33" fill="#111"/>
<text x="278.9" y="390.4" font-size="8.6" text-anchor="middle" fill="#111" stroke="#111" stroke-width="0.2">#</text>
<text x="301" y="415.7" font-size="8.6" text-anchor="middle" fill="#111" stroke="#111" stroke-width="0.2">#</text>
<polygon points="308.6,375.7 309.31,377.73 311.45,377.77 309.74,379.07 310.36,381.13 308.6,379.9 306.84,381.13 307.46,379.07 305.75,377.77 307.89,377.73" fill="#111"/>
<polygon points="318.2,375.7 318.91,377.73 321.05,377.77 319.34,379.07 319.96,381.13 318.2,379.9 316.44,381.13 317.06,379.07 315.35,377.77 317.49,377.73" fill="#111"/>
<text transform="translate(232.65 460) rotate(-45)" font-size="9.5" text-anchor="end" stroke="#111" stroke-width="0.3">Media</text>
<text transform="translate(271.15 460) rotate(-45)" font-size="9.5" text-anchor="end" stroke="#111" stroke-width="0.3">E. coli</text>
<text transform="translate(309.65 460) rotate(-45)" font-size="9.5" text-anchor="end" stroke="#111" stroke-width="0.3">S. aureus</text>
<text transform="translate(189.3 415.15) rotate(-90) scale(1.05 1)" font-size="9.6" text-anchor="middle" stroke="#111" stroke-width="0.3">TNF<tspan font-size="92%">&#945;</tspan> ng/mL</text>
<text transform="translate(199.6 415.15) rotate(-90) scale(1.05 1)" font-size="9.6" text-anchor="middle" stroke="#111" stroke-width="0.3">(Lysate)</text>
<rect x="343.5" y="351.5" width="7.8" height="4.0" fill="#fff" stroke="#111" stroke-width="1.1"/>
<rect x="343.0" y="362.20000000000005" width="8.8" height="4.8" fill="#000"/>
<rect x="343.5" y="373.6" width="7.8" height="4.0" fill="#8c8c8c" stroke="#222" stroke-width="1.1"/>
<rect x="343.5" y="385.0" width="7.8" height="4.0" fill="url(#hatch2)" stroke="#111" stroke-width="1.1"/>
<text x="354.2" y="357.2" font-size="10.3" stroke="#111" stroke-width="0.2">WT</text>
<text x="354.2" y="368.6" font-size="10.3" font-style="italic" stroke="#111" stroke-width="0.2">syk<tspan font-size="5.5" dy="-4.2">-/-</tspan></text>
<text x="353.0" y="379.2" font-size="10.3" font-style="italic" stroke="#111" stroke-width="0.2">CD11b<tspan font-size="5.5" dy="-4.2">-/-</tspan></text>
<text x="353.0" y="390.4" font-size="10.3" font-style="italic" stroke="#111" stroke-width="0.2">CD18<tspan font-size="5.5" dy="-4.2">-/-</tspan></text>
</svg>
</body></html>
